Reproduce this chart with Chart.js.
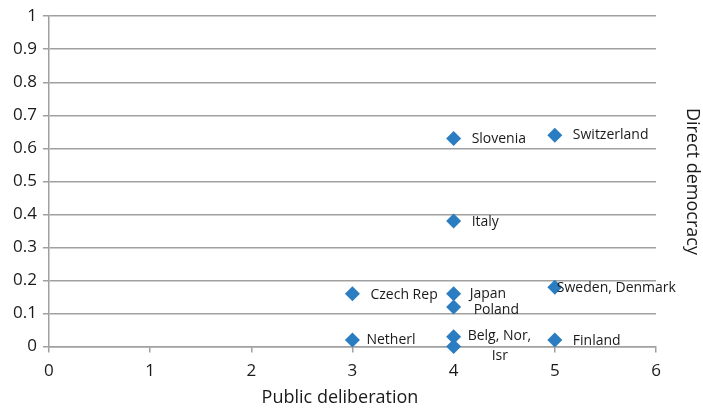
<!DOCTYPE html>
<html>
<head>
<meta charset="utf-8">
<script src="https://cdn.jsdelivr.net/npm/chart.js@4"></script>
<style>
  html, body { margin: 0; padding: 0; background: #fff; }
  #wrap { width: 703px; height: 412px; position: relative; }
</style>
</head>
<body>
<div id="wrap"><canvas id="c" width="703" height="412"></canvas></div>
<script>
// ---- data ----
const countries = ["Slovenia", "Switzerland", "Italy", "Czech Rep", "Japan", "Poland", "Sweden, Denmark", "Netherl", "Belg, Nor,", "Isr", "Finland"];
const deliberation = [4, 5, 4, 3, 4, 4, 5, 3, 4, 4, 5];
const directDemocracy = [0.63, 0.64, 0.38, 0.16, 0.16, 0.12, 0.18, 0.02, 0.03, 0.00, 0.02];
const xTicks = [0, 1, 2, 3, 4, 5, 6];
const yTicks = [0, 0.1, 0.2, 0.3, 0.4, 0.5, 0.6, 0.7, 0.8, 0.9, 1];
const xTitle = "Public deliberation";
const yTitle = "Direct democracy";
// label offsets from point (style only)
const labelDx = [18, 18, 18, 18, 16, 20, 2, 14, 14, 38, 18];
const labelDy = [1, 0, 1, 1, 0, 3, 1, 0, -1, 9, 1];

const FONT = "'Open Sans', 'Liberation Sans', sans-serif";
const BLUE = '#2A7DC1';

const labelPlugin = {
  id: 'labels',
  afterDatasetsDraw(chart) {
    const ctx = chart.ctx;
    const meta = chart.getDatasetMeta(0);
    ctx.save();
    ctx.font = "14px " + FONT;
    ctx.fillStyle = '#1a1a1a';
    ctx.textBaseline = 'middle';
    ctx.textAlign = 'left';
    meta.data.forEach((pt, i) => {
      ctx.fillText(countries[i], pt.x + labelDx[i], pt.y + labelDy[i]);
    });
    ctx.restore();
  },
  afterDraw(chart) {
    const ctx = chart.ctx;
    const ca = chart.chartArea;
    ctx.save();
    ctx.font = "18px " + FONT;
    ctx.fillStyle = '#1a1a1a';
    ctx.textAlign = 'center';
    ctx.textBaseline = 'middle';
    ctx.fillText(xTitle, 340, 398);
    ctx.translate(692, (ca.top + ca.bottom) / 2);
    ctx.rotate(Math.PI / 2);
    ctx.fillText(yTitle, 0, 0);
    ctx.restore();
  }
};

new Chart(document.getElementById('c'), {
  type: 'scatter',
  data: {
    datasets: [{
      data: deliberation.map((x, i) => ({ x: x, y: directDemocracy[i] })),
      pointStyle: 'rectRot',
      pointRadius: 7.5,
      pointHoverRadius: 7.5,
      backgroundColor: BLUE,
      borderColor: BLUE,
      borderWidth: 0,
      clip: false
    }]
  },
  options: {
    responsive: false,
    animation: false,
    events: [],
    layout: { padding: { left: 7, right: 47, top: 6, bottom: 23 } },
    plugins: { legend: { display: false }, tooltip: { enabled: false } },
    scales: {
      x: {
        type: 'linear',
        min: 0, max: 6,
        afterBuildTicks(scale) { scale.ticks = xTicks.map(v => ({ value: v })); },
        grid: { display: true, drawOnChartArea: false, color: '#A0A0A0', lineWidth: 1.5, tickLength: 6 },
        border: { display: true, color: '#A0A0A0', width: 1.5 },
        ticks: { font: { family: FONT, size: 17 }, color: '#1a1a1a', padding: 8 }
      },
      y: {
        type: 'linear',
        min: 0, max: 1,
        afterBuildTicks(scale) { scale.ticks = yTicks.map(v => ({ value: v })); },
        grid: { display: true, color: '#A0A0A0', lineWidth: 1.5, tickLength: 6 },
        border: { display: true, color: '#A0A0A0', width: 1.5 },
        ticks: { font: { family: FONT, size: 17 }, color: '#1a1a1a', padding: 6,
                 callback: v => String(v) }
      }
    }
  },
  plugins: [labelPlugin]
});
</script>
</body>
</html>
